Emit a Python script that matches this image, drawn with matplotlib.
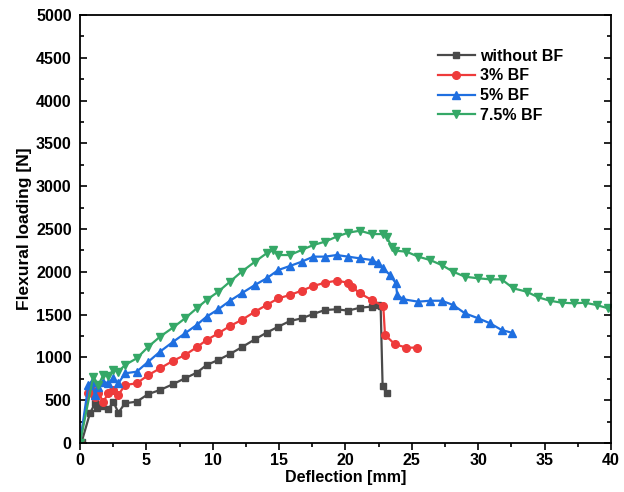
import matplotlib
matplotlib.use('Agg')
from matplotlib import pyplot as plt
from matplotlib.ticker import MultipleLocator

plt.rcParams['font.family'] = ['Liberation Sans', 'DejaVu Sans']
plt.rcParams['font.weight'] = 'bold'

# without BF
x0 = [0, 0.13, 0.75, 1.13, 1.3, 1.63, 2.13, 2.51, 2.89, 3.39, 4.27, 5.15, 6.03, 7.03, 7.91,
      8.79, 9.54, 10.42, 11.3, 12.18, 13.18, 14.06, 14.94, 15.82, 16.7, 17.58, 18.46, 19.34,
      20.2, 21.1, 21.97, 22.47, 22.65, 22.8, 23.1]
y0 = [0, 15, 347, 464, 405, 432, 393, 483, 354, 464, 483, 572, 619, 689, 756,
      821, 911, 970, 1040, 1118, 1211, 1289, 1359, 1425, 1456, 1507, 1554, 1562,
      1546, 1581, 1593, 1612, 1600, 666, 580]

# 3% BF
x3 = [0, 0.63, 0.88, 1.13, 1.38, 1.76, 2.13, 2.51, 2.89, 3.39, 4.27, 5.15, 6.03, 7.03, 7.91,
      8.79, 9.54, 10.42, 11.3, 12.18, 13.18, 14.06, 14.94, 15.82, 16.7, 17.58, 18.46, 19.34,
      20.2, 20.47, 21.09, 21.97, 22.85, 22.98, 23.73, 24.6, 25.36]
y3 = [0, 580, 619, 541, 580, 483, 580, 619, 561, 678, 697, 794, 872, 962, 1028,
      1118, 1203, 1281, 1367, 1437, 1534, 1612, 1690, 1729, 1780, 1834, 1873, 1896,
      1873, 1826, 1749, 1671, 1600, 1262, 1153, 1114, 1114]

# 5% BF
x5 = [0, 0.63, 0.88, 1.13, 1.38, 1.76, 2.13, 2.51, 2.89, 3.39, 4.27, 5.15, 6.03, 7.03, 7.91,
      8.79, 9.54, 10.42, 11.3, 12.18, 13.18, 14.06, 14.94, 15.82, 16.7, 17.58, 18.46, 19.34,
      20.2, 21.09, 21.97, 22.47, 22.85, 23.35, 23.8, 23.9, 24.36, 25.48, 26.37, 27.25, 28.12,
      29.0, 30.0, 30.9, 31.77, 32.52]
y5 = [0, 678, 716, 561, 658, 716, 697, 756, 697, 814, 833, 950, 1067, 1184, 1281,
      1379, 1476, 1562, 1662, 1749, 1846, 1924, 2021, 2068, 2118, 2177, 2177, 2196,
      2177, 2157, 2138, 2099, 2041, 1963, 1866, 1729, 1679, 1651, 1662, 1662, 1612,
      1515, 1457, 1398, 1320, 1289]

# 7.5% BF
x7 = [0, 1.0, 1.38, 1.76, 2.13, 2.51, 2.89, 3.39, 4.27, 5.15, 6.03, 7.03, 7.91,
      8.79, 9.54, 10.42, 11.3, 12.18, 13.18, 14.06, 14.56, 14.94, 15.82, 16.7, 17.58, 18.46,
      19.34, 20.2, 21.09, 21.97, 22.85, 23.1, 23.48, 23.73, 24.6, 25.48, 26.37, 27.25, 28.12,
      29.0, 30.0, 30.9, 31.77, 32.64, 33.65, 34.52, 35.4, 36.3, 37.2, 38.04, 38.92, 39.8]
y7 = [0, 775, 678, 794, 783, 853, 833, 911, 989, 1125, 1242, 1351, 1456,
      1573, 1671, 1768, 1885, 2001, 2118, 2216, 2255, 2196, 2196, 2255, 2313, 2352,
      2411, 2457, 2480, 2441, 2441, 2411, 2294, 2247, 2235, 2177, 2138, 2079, 2001,
      1943, 1924, 1912, 1912, 1807, 1768, 1702, 1662, 1639, 1632, 1639, 1612, 1573]

fig = plt.figure(figsize=(6.24, 4.92), dpi=100)
ax = fig.add_axes([0.1282, 0.0996, 0.8508, 0.8699])

ax.plot(x0, y0, color='#4a4a4a', marker='s', ms=5, lw=1.6, label='without BF')
ax.plot(x3, y3, color='#ee3b3b', marker='o', ms=5.5, lw=1.6, label='3% BF')
ax.plot(x5, y5, color='#1f6fe0', marker='^', ms=6, lw=1.6, label='5% BF')
ax.plot(x7, y7, color='#35a867', marker='v', ms=6, lw=1.6, label='7.5% BF')

ax.set_xlim(0, 40)
ax.set_ylim(0, 5000)
ax.xaxis.set_major_locator(MultipleLocator(5))
ax.xaxis.set_minor_locator(MultipleLocator(2.5))
ax.yaxis.set_major_locator(MultipleLocator(500))
ax.yaxis.set_minor_locator(MultipleLocator(250))
ax.tick_params(axis='x', which='both', direction='out', top=False, labelsize=11.5, pad=2)
ax.tick_params(axis='y', which='both', direction='in', right=True, labelsize=11.5, pad=6)
ax.tick_params(which='major', length=5, width=1.2)
ax.tick_params(which='minor', length=3, width=1.2)
for s in ax.spines.values():
    s.set_linewidth(1.3)

ax.set_xlabel('Deflection [mm]', fontsize=11.5, fontweight='bold', labelpad=2)
ax.set_ylabel('Flexural loading [N]', fontsize=12.5, fontweight='bold', labelpad=3)

ax.legend(loc='upper left', bbox_to_anchor=(0.647, 0.955), frameon=False,
          fontsize=11.5, handlelength=2.3, handletextpad=0.35, labelspacing=0.3)

fig.savefig('out.png', dpi=100)
